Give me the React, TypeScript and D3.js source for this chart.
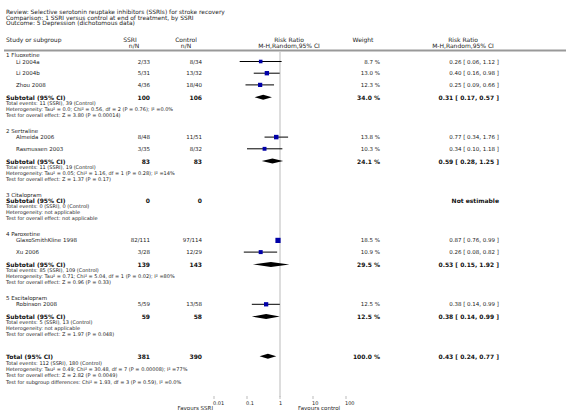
import React from "react";
import * as d3 from "d3";

const titleLines = [
  "Review:  Selective serotonin reuptake inhibitors (SSRIs) for stroke recovery",
  "Comparison:  1 SSRI versus control at end of treatment, by SSRI",
  "Outcome:  5 Depression (dichotomous data)",
];

const groupNames = ["1 Fluoxetine", "2 Sertraline", "3 Citalopram", "4 Paroxetine", "5 Escitalopram"];

const studyNames = ["Li 2004a", "Li 2004b", "Zhou 2008", "Almeida 2006", "Rasmussen 2003", "GlaxoSmithKline 1998", "Xu 2006", "Robinson 2008"];
const studyGroup = [0, 0, 0, 1, 1, 3, 3, 4];
const studySsri = ["2/33", "5/31", "4/36", "8/48", "3/35", "82/111", "3/28", "5/59"];
const studyCtrl = ["8/34", "13/32", "18/40", "11/51", "8/32", "97/114", "12/29", "13/58"];
const studyWeight = [8.7, 13.0, 12.3, 13.8, 10.3, 18.5, 10.9, 12.5];
const studyRR = [0.26, 0.40, 0.25, 0.77, 0.34, 0.87, 0.26, 0.38];
const studyLo = [0.06, 0.16, 0.09, 0.34, 0.10, 0.76, 0.08, 0.14];
const studyHi = [1.12, 0.98, 0.66, 1.76, 1.18, 0.99, 0.82, 0.99];

const subN1 = ["100", "83", "0", "139", "59"];
const subN2 = ["106", "83", "0", "143", "58"];
const subWeight: (number | null)[] = [34.0, 24.1, null, 29.5, 12.5];
const subRR: (number | null)[] = [0.31, 0.59, null, 0.53, 0.38];
const subLo: (number | null)[] = [0.17, 0.28, null, 0.15, 0.14];
const subHi: (number | null)[] = [0.57, 1.25, null, 1.92, 0.99];
const subEvents = [
  "Total events: 11 (SSRI), 39 (Control)",
  "Total events: 11 (SSRI), 19 (Control)",
  "Total events: 0 (SSRI), 0 (Control)",
  "Total events: 85 (SSRI), 109 (Control)",
  "Total events: 5 (SSRI), 13 (Control)",
];
const subHet = [
  "Heterogeneity: Tau\u00b2 = 0.0; Chi\u00b2 = 0.56, df = 2 (P = 0.76); I\u00b2 =0.0%",
  "Heterogeneity: Tau\u00b2 = 0.05; Chi\u00b2 = 1.16, df = 1 (P = 0.28); I\u00b2 =14%",
  "Heterogeneity: not applicable",
  "Heterogeneity: Tau\u00b2 = 0.71; Chi\u00b2 = 5.04, df = 1 (P = 0.02); I\u00b2 =80%",
  "Heterogeneity: not applicable",
];
const subTest = [
  "Test for overall effect: Z = 3.80 (P = 0.00014)",
  "Test for overall effect: Z = 1.37 (P = 0.17)",
  "Test for overall effect: not applicable",
  "Test for overall effect: Z = 0.96 (P = 0.33)",
  "Test for overall effect: Z = 1.97 (P = 0.048)",
];

const totalN1 = "381";
const totalN2 = "390";
const totalWeight = 100.0;
const totalRR = 0.43;
const totalLo = 0.24;
const totalHi = 0.77;
const totalLines = [
  "Total events: 112 (SSRI), 180 (Control)",
  "Heterogeneity: Tau\u00b2 = 0.49; Chi\u00b2 = 30.48, df = 7 (P = 0.00008); I\u00b2 =77%",
  "Test for overall effect: Z = 2.82 (P = 0.0049)",
  "Test for subgroup differences: Chi\u00b2 = 1.93, df = 3 (P = 0.59), I\u00b2 =0.0%",
];

const tickValues = [0.01, 0.1, 1, 10, 100];
const tickLabels = ["0.01", "0.1", "1", "10", "100"];

const FONT = "DejaVu Sans, Verdana, sans-serif";
const TXT = "#222";

type Row =
  | { kind: "heading"; y: number; g: number }
  | { kind: "study"; y: number; i: number }
  | { kind: "subtotal"; y: number; g: number }
  | { kind: "line"; y: number; text: string }
  | { kind: "total"; y: number };

function buildRows(): Row[] {
  const rows: Row[] = [];
  let y = 55;
  groupNames.forEach((_, g) => {
    rows.push({ kind: "heading", y, g });
    const idx = studyNames.map((_, i) => i).filter((i) => studyGroup[i] === g);
    idx.forEach((i, k) => {
      y += k === 0 ? 6.5 : 11.7;
      rows.push({ kind: "study", y, i });
    });
    y += idx.length ? 12.3 : 6;
    rows.push({ kind: "subtotal", y, g });
    y += 5.6;
    rows.push({ kind: "line", y, text: subEvents[g] });
    y += 6;
    rows.push({ kind: "line", y, text: subHet[g] });
    y += 6;
    rows.push({ kind: "line", y, text: subTest[g] });
    y += g < groupNames.length - 1 ? 15.8 : 22;
  });
  rows.push({ kind: "total", y });
  totalLines.forEach((t) => {
    y += 6.4;
    rows.push({ kind: "line", y, text: t });
  });
  return rows;
}

const fmt2 = d3.format(".2f");
const ciText = (rr: number, lo: number, hi: number) => `${fmt2(rr)} [ ${fmt2(lo)}, ${fmt2(hi)} ]`;
const wText = (w: number) => `${d3.format(".1f")(w)} %`;

export default function App() {
  const W = 566;
  const H = 416;
  const x = d3.scaleLog().domain([0.01, 100]).range([214, 346]);
  const rows = buildRows();
  const colName = 6;
  const colStudy = 16;
  const colSsri = 150;
  const colCtrl = 202;
  const colWeight = 380;
  const colCI = 499;
  const axisY = 397;
  const sq = d3.scaleSqrt().domain([0, 20]).range([0, 5.4]);

  const diamond = (rr: number, lo: number, hi: number, y: number, h: number) => {
    const pts: [number, number][] = [
      [x(lo), y],
      [x(rr), y - h / 2],
      [x(hi), y],
      [x(rr), y + h / 2],
    ];
    return d3.line()(pts) + "Z";
  };

  return (
    <svg width={W} height={H} style={{ position: "absolute", left: 0, top: 0, background: "#fff" }} fontFamily={FONT}>
      <rect width={W} height={H} fill="#fff" />
      {titleLines.map((t, i) => (
        <text key={"t" + i} x={colName} y={11.8 + i * 5.8} fontSize={5.9} fill={TXT} dominantBaseline="central">
          {t}
        </text>
      ))}
      {/* headers */}
      <g fontSize={6} fill={TXT}>
        <text x={colName} y={39} dominantBaseline="central">Study or subgroup</text>
        <text x={colSsri - 20} y={39} dominantBaseline="central" textAnchor="middle">SSRI</text>
        <text x={colSsri - 16} y={45} dominantBaseline="central" textAnchor="middle">n/N</text>
        <text x={colCtrl - 16} y={39} dominantBaseline="central" textAnchor="middle">Control</text>
        <text x={colCtrl - 16} y={45} dominantBaseline="central" textAnchor="middle">n/N</text>
        <text x={289} y={39} dominantBaseline="central" textAnchor="middle">Risk Ratio</text>
        <text x={289} y={45} dominantBaseline="central" textAnchor="middle">M-H,Random,95% CI</text>
        <text x={363} y={39} dominantBaseline="central" textAnchor="middle">Weight</text>
        <text x={463} y={39} dominantBaseline="central" textAnchor="middle">Risk Ratio</text>
        <text x={463} y={45} dominantBaseline="central" textAnchor="middle">M-H,Random,95% CI</text>
      </g>
      <line x1={4} x2={W} y1={50.5} y2={50.5} stroke="#999" strokeWidth={2} />
      {/* line of no effect */}
      <line x1={x(1)} x2={x(1)} y1={52} y2={axisY} stroke="#ddd" strokeWidth={2} />
      {rows.map((r, k) => {
        if (r.kind === "heading") {
          return (
            <text key={k} x={colName} y={r.y} fontSize={5.5} fill={TXT} dominantBaseline="central">
              {groupNames[r.g]}
            </text>
          );
        }
        if (r.kind === "line") {
          return (
            <text key={k} x={colName} y={r.y} fontSize={5} fill={TXT} dominantBaseline="central">
              {r.text}
            </text>
          );
        }
        if (r.kind === "study") {
          const i = r.i;
          const s = sq(studyWeight[i]);
          return (
            <g key={k} fontSize={5.5} fill={TXT}>
              <text x={colStudy} y={r.y} dominantBaseline="central">{studyNames[i]}</text>
              <text x={colSsri} y={r.y} dominantBaseline="central" textAnchor="end">{studySsri[i]}</text>
              <text x={colCtrl} y={r.y} dominantBaseline="central" textAnchor="end">{studyCtrl[i]}</text>
              <text x={colWeight} y={r.y} dominantBaseline="central" textAnchor="end">{wText(studyWeight[i])}</text>
              <text x={colCI} y={r.y} dominantBaseline="central" textAnchor="end">
                {ciText(studyRR[i], studyLo[i], studyHi[i])}
              </text>
              <line x1={x(studyLo[i])} x2={x(studyHi[i])} y1={r.y} y2={r.y} stroke="#000" strokeWidth={1} />
              <rect x={x(studyRR[i]) - s / 2} y={r.y - s / 2} width={s} height={s} fill="#0000a8" />
            </g>
          );
        }
        if (r.kind === "subtotal") {
          const g = r.g;
          const rr = subRR[g];
          return (
            <g key={k} fontSize={6} fontWeight="bold" fill="#111">
              <text x={colName} y={r.y} dominantBaseline="central">Subtotal (95% CI)</text>
              <text x={colSsri} y={r.y} dominantBaseline="central" textAnchor="end">{subN1[g]}</text>
              <text x={colCtrl} y={r.y} dominantBaseline="central" textAnchor="end">{subN2[g]}</text>
              {rr !== null ? (
                <>
                  <text x={colWeight} y={r.y} dominantBaseline="central" textAnchor="end">{wText(subWeight[g] as number)}</text>
                  <text x={colCI} y={r.y} dominantBaseline="central" textAnchor="end">
                    {ciText(rr, subLo[g] as number, subHi[g] as number)}
                  </text>
                  <path d={diamond(rr, subLo[g] as number, subHi[g] as number, r.y, 5)} fill="#000" />
                </>
              ) : (
                <text x={colCI} y={r.y} dominantBaseline="central" textAnchor="end">Not estimable</text>
              )}
            </g>
          );
        }
        return (
          <g key={k} fontSize={6} fontWeight="bold" fill="#111">
            <text x={colName} y={r.y} dominantBaseline="central">Total (95% CI)</text>
            <text x={colSsri} y={r.y} dominantBaseline="central" textAnchor="end">{totalN1}</text>
            <text x={colCtrl} y={r.y} dominantBaseline="central" textAnchor="end">{totalN2}</text>
            <text x={colWeight} y={r.y} dominantBaseline="central" textAnchor="end">{wText(totalWeight)}</text>
            <text x={colCI} y={r.y} dominantBaseline="central" textAnchor="end">{ciText(totalRR, totalLo, totalHi)}</text>
            <path d={diamond(totalRR, totalLo, totalHi, r.y, 5)} fill="#000" />
          </g>
        );
      })}
      {/* axis */}
      <g>
        {tickValues.map((v, i) => (
          <g key={"tk" + i}>
            <line x1={x(v)} x2={x(v)} y1={axisY - 1} y2={axisY + 2} stroke="#bbb" strokeWidth={1} />
            <text x={x(v) - 1} y={axisY + 6} fontSize={5} fill={TXT} dominantBaseline="central">
              {tickLabels[i]}
            </text>
          </g>
        ))}
        <text x={x(0.01) - 1} y={axisY + 10.5} fontSize={5.5} fill={TXT} dominantBaseline="central" textAnchor="end">
          Favours SSRI
        </text>
        <text x={x(10) - 15} y={axisY + 10.5} fontSize={5.5} fill={TXT} dominantBaseline="central">
          Favours control
        </text>
      </g>
    </svg>
  );
}
